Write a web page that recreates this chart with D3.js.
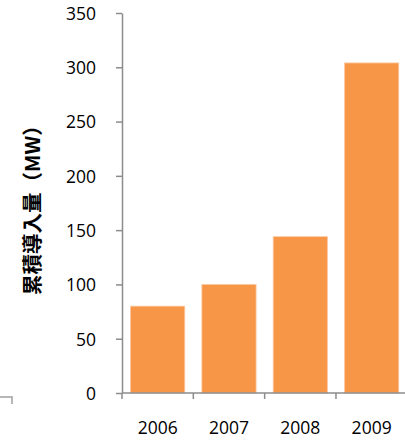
<!DOCTYPE html>
<html>
<head>
<meta charset="utf-8">
<script src="https://cdn.jsdelivr.net/npm/d3@7"></script>
<style>
  html, body { margin: 0; padding: 0; background: #fff; }
  svg { display: block; }
  .tick text { font-family: "Open Sans", "Liberation Sans", sans-serif; font-size: 17.5px; fill: #000; }
</style>
</head>
<body>
<svg id="chart" width="405" height="447"></svg>
<script>
// Cumulative installed capacity per year
const years = ["2006", "2007", "2008", "2009"];
const capacityMW = [80, 100, 144, 304];
const yTicks = [0, 50, 100, 150, 200, 250, 300, 350];
const yTitle = "累積導入量（MW）";

const svg = d3.select("#chart");
const axisColor = "#8c8c8c";
const barColor = "#f79646";

const plotLeft = 122, plotRight = 407.3, plotTop = 13, plotBottom = 393;

const x = d3.scaleBand()
  .domain(years)
  .range([plotLeft, plotRight])
  .paddingInner(0.24)
  .paddingOuter(0.12);

const y = d3.scaleLinear()
  .domain([0, 350])
  .range([plotBottom, plotTop]);

// Bars
svg.append("g")
  .selectAll("rect")
  .data(years.map((yr, i) => ({ yr, v: capacityMW[i] })))
  .join("rect")
  .attr("x", d => x(d.yr))
  .attr("y", d => y(d.v))
  .attr("width", x.bandwidth())
  .attr("height", d => y(0) - y(d.v))
  .attr("fill", barColor)
  .attr("stroke", "#fbc9a2")
  .attr("stroke-width", 0.8);

// Y axis
const yAxis = svg.append("g")
  .attr("transform", `translate(${plotLeft},0)`)
  .call(d3.axisLeft(y).tickValues(yTicks).tickSize(6).tickSizeOuter(0).tickPadding(20));
yAxis.select(".domain").attr("stroke", axisColor).attr("stroke-width", 1.5);
yAxis.selectAll(".tick line").attr("stroke", axisColor).attr("stroke-width", 1.5);
yAxis.selectAll(".tick text").attr("dy", "0.36em");

// X axis: labels centred in bands, tick marks at band boundaries
const xAxis = svg.append("g")
  .attr("transform", `translate(0,${plotBottom})`)
  .call(d3.axisBottom(x).tickSize(0).tickSizeOuter(0).tickPadding(29));
xAxis.select(".domain").remove();
xAxis.selectAll(".tick text").attr("dy", "0.71em");

svg.append("line")
  .attr("x1", plotLeft).attr("x2", plotRight + 2)
  .attr("y1", plotBottom).attr("y2", plotBottom)
  .attr("stroke", axisColor).attr("stroke-width", 1.5);

const bounds = d3.range(years.length + 1).map(i => plotLeft + i * x.step());
svg.append("g")
  .selectAll("line")
  .data(bounds)
  .join("line")
  .attr("x1", d => d).attr("x2", d => d)
  .attr("y1", plotBottom).attr("y2", plotBottom + 6)
  .attr("stroke", axisColor).attr("stroke-width", 1.5);

// Y axis title
svg.append("text")
  .attr("transform", `translate(40,${(plotTop + plotBottom) / 2 + 2}) rotate(-90)`)
  .attr("text-anchor", "middle")
  .attr("font-family", "'Noto Sans CJK JP', sans-serif")
  .attr("font-weight", "bold")
  .attr("font-size", 20.5)
  .attr("fill", "#000")
  .text(yTitle);

// Edge of the neighbouring frame at lower left
svg.append("path")
  .attr("d", "M0,397 H12 V404")
  .attr("fill", "none")
  .attr("stroke", "#a0a0a0")
  .attr("stroke-width", 1.5);
</script>
</body>
</html>
